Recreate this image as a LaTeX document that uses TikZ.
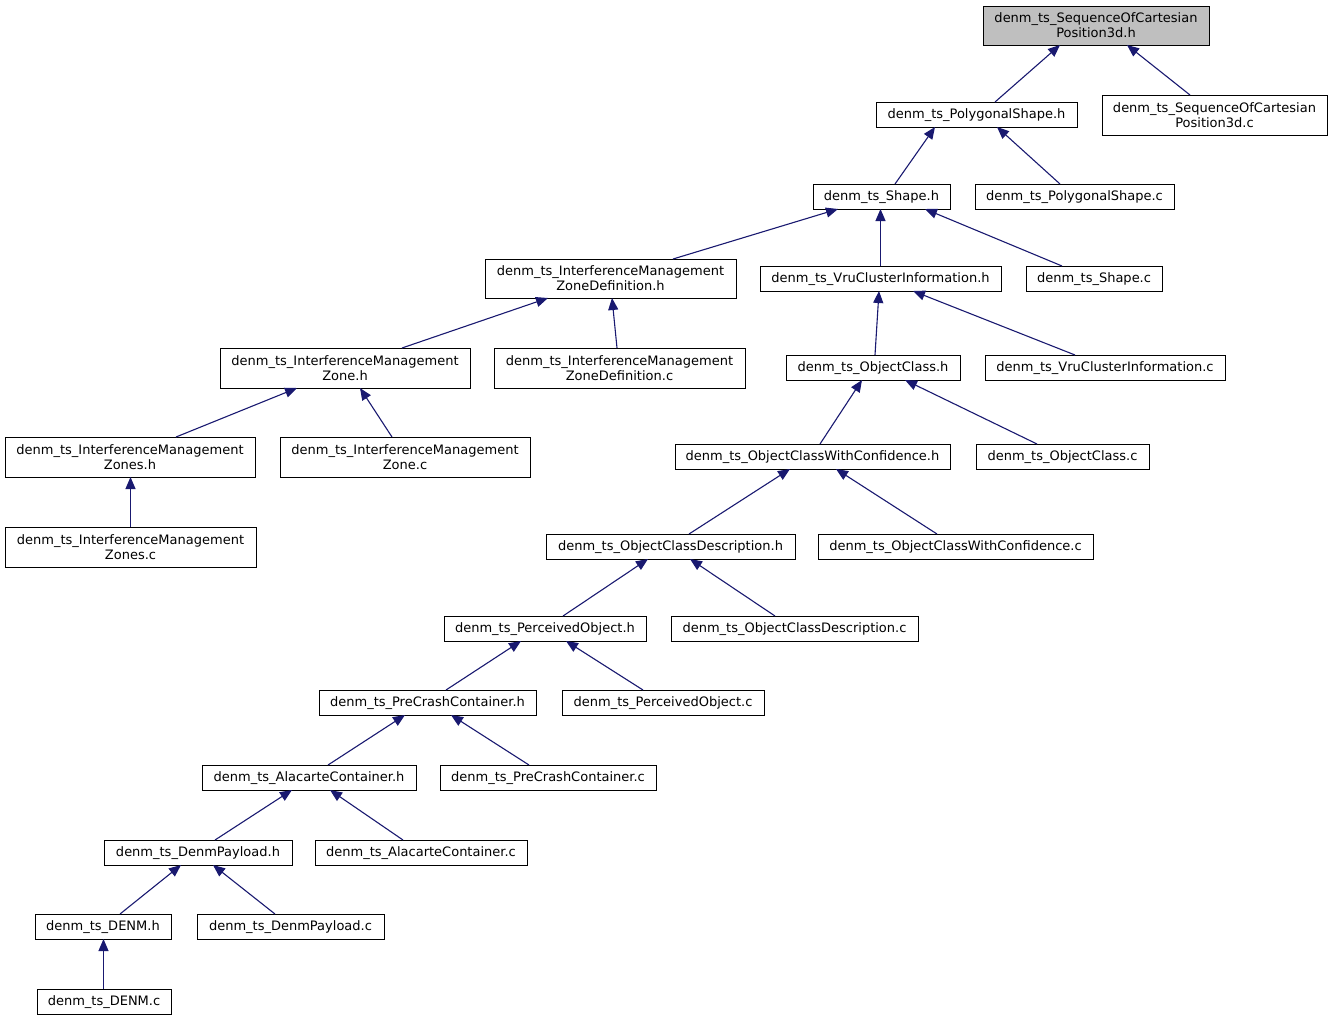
\documentclass[tikz,border=0pt]{standalone}
\usepackage{fontspec}
\setmainfont{DejaVu Sans}
\newcommand*{\graphfont}{\fontsize{13}{15}\selectfont}
\definecolor{edge}{HTML}{191970}
\definecolor{rootgrey}{HTML}{BFBFBF}
\definecolor{frame}{HTML}{000000}
\usepackage{tikz}
\usetikzlibrary{arrows.meta}
\usetikzlibrary{positioning}
\tikzstyle{base}=[x=1pt, y=-1pt, inner sep=0pt, outer sep=0pt]
\tikzstyle{box}=[draw=frame, line width=0.9pt, fill=white, align=center]
\tikzstyle{file}=[box, minimum height=25pt, text height=9.9pt, text depth=1.2pt]
\tikzstyle{twoline}=[box, minimum height=40pt]
\tikzstyle{dep}=[edge, line width=1.1pt, -{Triangle[length=12pt, width=10pt]}]

\begin{document}
\begin{tikzpicture}[base]
    \graphfont
    \path [use as bounding box] (0,0) rectangle (1333,1021);
    % files
    \node [twoline, fill=rootgrey, minimum width=226pt, minimum height=39pt] (seqh) at (1096,25.5) {denm\_ts\_SequenceOfCartesian\\Position3d.h};
    \node [file, minimum width=201pt] (polyh) at (976.5,114.5) {denm\_ts\_PolygonalShape.h};
    \node [twoline, minimum width=225pt] (seqc) at (1214.5,115) {denm\_ts\_SequenceOfCartesian\\Position3d.c};
    \node [file, minimum width=137pt] (shapeh) at (881.5,196.5) {denm\_ts\_Shape.h};
    \node [file, minimum width=199pt] (polyc) at (1074.5,196.5) {denm\_ts\_PolygonalShape.c};
    \node [twoline, minimum width=251pt, minimum height=39pt] (imzdh) at (610.5,278.5) {denm\_ts\_InterferenceManagement\\ZoneDefinition.h};
    \node [file, minimum width=241pt] (vruh) at (880.5,278.5) {denm\_ts\_VruClusterInformation.h};
    \node [file, minimum width=136pt] (shapec) at (1094,278.5) {denm\_ts\_Shape.c};
    \node [twoline, minimum width=250pt] (imzh) at (345,368) {denm\_ts\_InterferenceManagement\\Zone.h};
    \node [twoline, minimum width=251pt] (imzdc) at (619.5,368) {denm\_ts\_InterferenceManagement\\ZoneDefinition.c};
    \node [file, minimum width=174pt] (och) at (873,367.5) {denm\_ts\_ObjectClass.h};
    \node [file, minimum width=240pt] (vruc) at (1105,367.5) {denm\_ts\_VruClusterInformation.c};
    \node [twoline, minimum width=250pt] (imzsh) at (130,457) {denm\_ts\_InterferenceManagement\\Zones.h};
    \node [twoline, minimum width=250pt] (imzc) at (405,457) {denm\_ts\_InterferenceManagement\\Zone.c};
    \node [file, minimum width=275pt] (ocwch) at (812.5,456.5) {denm\_ts\_ObjectClassWithConfidence.h};
    \node [file, minimum width=173pt] (occ) at (1062.5,456.5) {denm\_ts\_ObjectClass.c};
    \node [twoline, minimum width=251pt] (imzsc) at (130.5,547) {denm\_ts\_InterferenceManagement\\Zones.c};
    \node [file, minimum width=249pt] (ocdh) at (670.5,546.5) {denm\_ts\_ObjectClassDescription.h};
    \node [file, minimum width=275pt] (ocwcc) at (955.5,546.5) {denm\_ts\_ObjectClassWithConfidence.c};
    \node [file, minimum width=202pt] (poh) at (545,628.5) {denm\_ts\_PerceivedObject.h};
    \node [file, minimum width=247pt] (ocdc) at (794.5,628.5) {denm\_ts\_ObjectClassDescription.c};
    \node [file, minimum width=217pt] (pcch) at (427.5,702.5) {denm\_ts\_PreCrashContainer.h};
    \node [file, minimum width=202pt] (poc) at (663,702.5) {denm\_ts\_PerceivedObject.c};
    \node [file, minimum width=214pt] (ach) at (309,777.5) {denm\_ts\_AlacarteContainer.h};
    \node [file, minimum width=216pt] (pccc) at (548,777.5) {denm\_ts\_PreCrashContainer.c};
    \node [file, minimum width=188pt] (dph) at (198,852.5) {denm\_ts\_DenmPayload.h};
    \node [file, minimum width=212pt] (acc) at (421,852.5) {denm\_ts\_AlacarteContainer.c};
    \node [file, minimum width=136pt] (denmh) at (103,926.5) {denm\_ts\_DENM.h};
    \node [file, minimum width=187pt] (dpc) at (290.5,926.5) {denm\_ts\_DenmPayload.c};
    \node [file, minimum width=134pt] (denmc) at (104,1001.5) {denm\_ts\_DENM.c};
    % includes
    \draw [dep] ([xshift=18.5]polyh.north) -- ([xshift=-36]seqh.south);
    \draw [dep] ([xshift=-24.5]seqc.north) -- ([xshift=31]seqh.south);
    \draw [dep] ([xshift=13.5]shapeh.north) -- ([xshift=-41.5]polyh.south);
    \draw [dep] ([xshift=-14.5]polyc.north) -- ([xshift=20.5]polyh.south);
    \draw [dep] ([xshift=62.5]imzdh.north) -- ([xshift=-43.5]shapeh.south);
    \draw [dep] (vruh.north) -- (shapeh.south -| vruh.north);
    \draw [dep] ([xshift=-32]shapec.north) -- ([xshift=43.5]shapeh.south);
    \draw [dep] ([xshift=57]imzh.north) -- ([xshift=-62.5]imzdh.south);
    \draw [dep] ([xshift=-2.5]imzdc.north) -- ([xshift=1.5]imzdh.south);
    \draw [dep] ([xshift=2]och.north) -- ([xshift=-1.5]vruh.south);
    \draw [dep] ([xshift=-30]vruc.north) -- ([xshift=32.5]vruh.south);
    \draw [dep] ([xshift=46]imzsh.north) -- ([xshift=-48]imzh.south);
    \draw [dep] ([xshift=-13]imzc.north) -- ([xshift=15]imzh.south);
    \draw [dep] ([xshift=7.5]ocwch.north) -- ([xshift=-11]och.south);
    \draw [dep] ([xshift=-25.5]occ.north) -- ([xshift=32]och.south);
    \draw [dep] (imzsc.north) -- (imzsh.south -| imzsc.north);
    \draw [dep] ([xshift=18.5]ocdh.north) -- ([xshift=-22.5]ocwch.south);
    \draw [dep] ([xshift=-18.5]ocwcc.north) -- ([xshift=23.5]ocwch.south);
    \draw [dep] ([xshift=18]poh.north) -- ([xshift=-22.5]ocdh.south);
    \draw [dep] ([xshift=-19.5]ocdc.north) -- ([xshift=19.5]ocdh.south);
    \draw [dep] ([xshift=18.5]pcch.north) -- ([xshift=-24]poh.south);
    \draw [dep] ([xshift=-20]poc.north) -- ([xshift=21]poh.south);
    \draw [dep] ([xshift=19]ach.north) -- ([xshift=-22.5]pcch.south);
    \draw [dep] ([xshift=-19]pccc.north) -- ([xshift=23.5]pcch.south);
    \draw [dep] ([xshift=17]dph.north) -- ([xshift=-17]ach.south);
    \draw [dep] ([xshift=-18]acc.north) -- ([xshift=21]ach.south);
    \draw [dep] ([xshift=17]denmh.north) -- ([xshift=-17]dph.south);
    \draw [dep] ([xshift=-15.5]dpc.north) -- ([xshift=15]dph.south);
    \draw [dep] ([xshift=-0.5]denmc.north) -- ([xshift=0.5]denmh.south);
\end{tikzpicture}
\end{document}
